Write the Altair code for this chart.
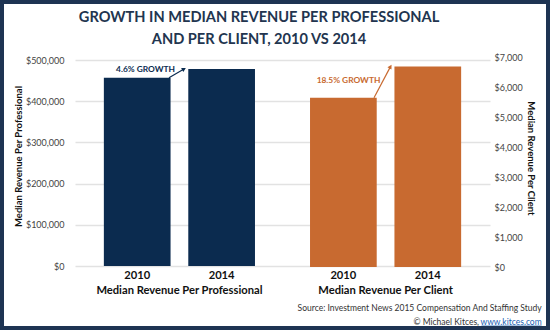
import altair as alt
import pandas as pd

# ---- data ----
groups = ["Median Revenue Per Professional", "Median Revenue Per Client"]
years = ["2010", "2014"]
per_professional = [457000, 478000]
per_client = [5640, 6680]
growth_labels = ["4.6% GROWTH", "18.5% GROWTH"]
title_lines = ["GROWTH IN MEDIAN REVENUE PER PROFESSIONAL", "AND PER CLIENT, 2010 VS 2014"]
source_line = "Source: Investment News 2015 Compensation And Staffing Study"
credit = "© Michael Kitces,"
url = "www.kitces.com"

NAVY = "#0b2b4f"
ORANGE = "#c86a30"
FRAME = "#1e3453"
FONT = "Lato"

prof_df = pd.DataFrame({"group": groups[0], "year": years, "value": per_professional})
client_df = pd.DataFrame({"group": groups[1], "year": years, "value": per_client})
years_df = pd.DataFrame({"group": [g for g in groups for _ in years],
                         "year": years * len(groups)})

x_scale = alt.Scale(domain=groups, paddingInner=0.267, paddingOuter=0.14)
xo_scale = alt.Scale(domain=years, paddingInner=0.21, paddingOuter=0)
left_scale = alt.Scale(domain=[0, 500000], range=[209, 3], nice=False)
right_scale = alt.Scale(domain=[0, 7000], nice=False)

x_axis = alt.Axis(orient="bottom", domain=False, ticks=False, labelFontWeight="bold",
                  labelFontSize=11.2, labelColor="#111", labelPadding=17, labelAngle=0,
                  labelLimit=400, labelFont=FONT, title=None)

X = alt.X("group:N", scale=x_scale, axis=x_axis)
XO = alt.XOffset("year:N", scale=xo_scale)

left_axis = alt.Axis(orient="left", format="$,.0f", values=[0, 100000, 200000, 300000, 400000, 500000],
                     grid=True, gridColor="#e2e2e2", gridWidth=1.5, domain=False, ticks=False,
                     labelFont=FONT, labelFontSize=9, labelColor="#444", labelPadding=11,
                     title="Median Revenue Per Professional", titleFont=FONT, titleFontSize=9.5,
                     titleFontWeight="bold", titleColor="#111", titleX=-57, titleY=99,
                     titleAngle=270, titleAlign="center", titleBaseline="middle")
right_axis = alt.Axis(orient="right", format="$,.0f", values=[0, 1000, 2000, 3000, 4000, 5000, 6000, 7000],
                      grid=False, domain=False, ticks=False,
                      labelFont=FONT, labelFontSize=9, labelColor="#444", labelPadding=4,
                      title="Median Revenue Per Client", titleFont=FONT, titleFontSize=9.5,
                      titleFontWeight="bold", titleColor="#111", titleX=40, titleY=101,
                      titleAngle=90, titleAlign="center", titleBaseline="middle")

prof_bars = alt.Chart(prof_df).mark_bar(color=NAVY).encode(
    x=X, xOffset=XO, y=alt.Y("value:Q", scale=left_scale, axis=left_axis))
client_bars = alt.Chart(client_df).mark_bar(color=ORANGE).encode(
    x=X, xOffset=XO, y=alt.Y("value:Q", scale=right_scale, axis=right_axis))

year_text = alt.Chart(years_df).mark_text(font=FONT, fontWeight="bold", fontSize=11.2,
                                          color="#111", baseline="middle").encode(
    x=X, xOffset=XO, y=alt.value(219), text="year:N")

# growth arrows, anchored to the bar tops
prof_arrow_df = pd.DataFrame({"y": [per_professional[0]], "y2": [per_professional[1]]})
client_arrow_df = pd.DataFrame({"y": [per_client[0]], "y2": [per_client[1]]})

prof_arrow = alt.Chart(prof_arrow_df).mark_rule(color=NAVY, strokeWidth=1.2).encode(
    x=alt.value(94), x2=alt.value(109), y=alt.Y("y:Q", scale=left_scale, axis=None), y2="y2:Q")
prof_head = alt.Chart(prof_arrow_df).mark_point(shape="triangle-right", filled=True, size=22,
                                                color=NAVY, opacity=1, angle=332).encode(
    x=alt.value(109), y=alt.Y("y2:Q", scale=left_scale, axis=None))
client_arrow = alt.Chart(client_arrow_df).mark_rule(color=ORANGE, strokeWidth=1.2).encode(
    x=alt.value(299), x2=alt.value(315.5), y=alt.Y("y:Q", scale=right_scale, axis=None), y2="y2:Q")
client_head = alt.Chart(client_arrow_df).mark_point(shape="triangle-right", filled=True, size=22,
                                                    color=ORANGE, opacity=1, angle=301).encode(
    x=alt.value(315.5), y=alt.Y("y2:Q", scale=right_scale, axis=None))

prof_label = alt.Chart(pd.DataFrame({"t": [growth_labels[0]]})).mark_text(
    font=FONT, fontWeight="bold", fontSize=8.4, color=NAVY, baseline="middle").encode(
    x=alt.value(70.5), y=alt.value(12), text="t:N")
client_label = alt.Chart(pd.DataFrame({"t": [growth_labels[1]]})).mark_text(
    font=FONT, fontWeight="bold", fontSize=8.4, color=ORANGE, baseline="middle").encode(
    x=alt.value(273.5), y=alt.value(23), text="t:N")

title1 = alt.Chart(pd.DataFrame({"t": [title_lines[0]]})).mark_text(
    font=FONT, fontWeight="bold", fontSize=14.6, color="#22354f", baseline="middle").encode(
    x=alt.value(184), y=alt.value(-39.3), text="t:N")
title2 = alt.Chart(pd.DataFrame({"t": [title_lines[1]]})).mark_text(
    font=FONT, fontWeight="bold", fontSize=14.6, color="#22354f", baseline="middle").encode(
    x=alt.value(184), y=alt.value(-17), text="t:N")

src = alt.Chart(pd.DataFrame({"t": [source_line]})).mark_text(
    font=FONT, fontSize=8.5, color="#333", align="right", baseline="middle").encode(
    x=alt.value(466.7), y=alt.value(250.7), text="t:N")
cred = alt.Chart(pd.DataFrame({"t": [credit]})).mark_text(
    font=FONT, fontSize=8.5, color="#333", align="right", baseline="middle").encode(
    x=alt.value(404), y=alt.value(264.5), text="t:N")
url_t = alt.Chart(pd.DataFrame({"t": [url]})).mark_text(
    font=FONT, fontSize=8.5, color="#1a5fb4", align="right", baseline="middle").encode(
    x=alt.value(466.7), y=alt.value(264.5), text="t:N")
url_u = alt.Chart(pd.DataFrame({"t": [url]})).mark_rule(color="#1a5fb4", strokeWidth=0.8).encode(
    x=alt.value(406.5), x2=alt.value(466.7), y=alt.value(269))

frame = alt.Chart(pd.DataFrame({"t": [0]})).mark_rect(
    fillOpacity=0, stroke=FRAME, strokeWidth=8).encode(
    x=alt.value(-75), x2=alt.value(475), y=alt.value(-57), y2=alt.value(273))

chart = alt.layer(
    prof_bars, client_bars, year_text, prof_arrow, prof_head, client_arrow, client_head,
    prof_label, client_label, title1, title2, src, cred, url_t, url_u, frame
).resolve_scale(y="independent").properties(
    width=415, height=210,
    autosize=alt.AutoSizeParams(type="none"),
    padding={"left": 75, "top": 57, "right": 60, "bottom": 63},
    background="white",
).configure_view(strokeWidth=0)

chart.save("out.html", embed_options={"renderer": "svg", "actions": False})
